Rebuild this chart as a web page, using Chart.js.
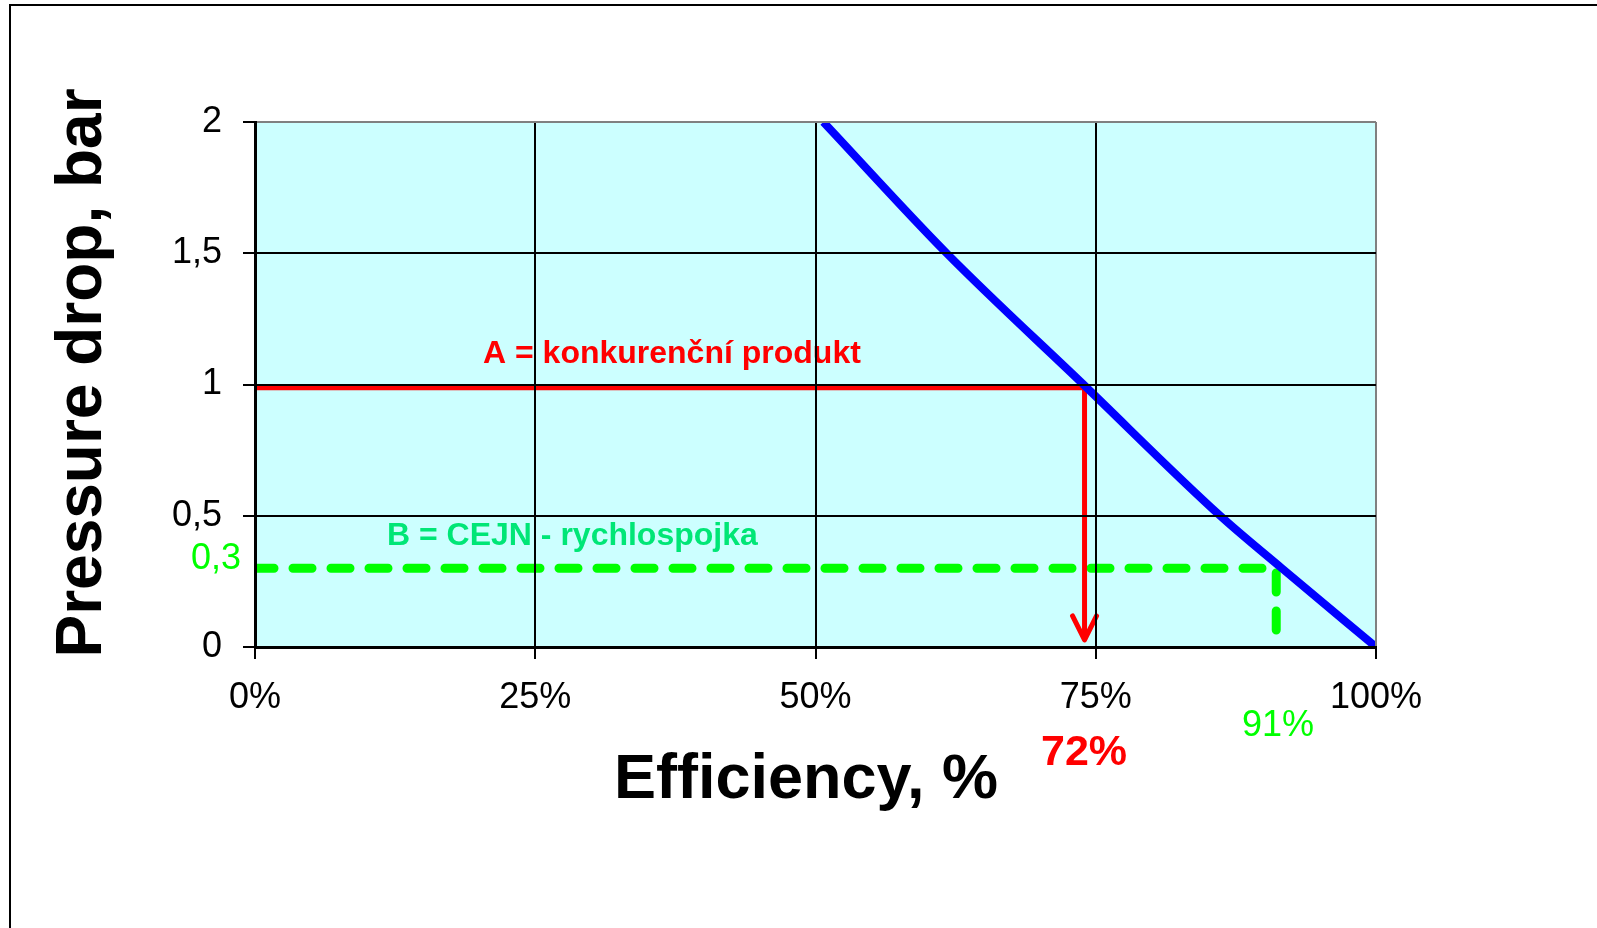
<!DOCTYPE html>
<html>
<head>
<meta charset="utf-8">
<script src="https://cdn.jsdelivr.net/npm/chart.js@4/dist/chart.umd.min.js"></script>
<style>
  html, body { margin: 0; padding: 0; background: #fff; }
  #wrap { width: 1597px; height: 928px; }
</style>
</head>
<body>
<div id="wrap"><canvas id="c" width="1597" height="928"></canvas></div>
<script>
// ---- data ----
const efficiency   = [50.7, 61.7, 73.9, 86.1, 91.6, 100];   // % (x)
const pressureDrop = [2, 1.5, 1, 0.5, 0.3, 0];              // bar (y)

const competitorX = [0, 74, 74];
const competitorY = [0.988, 0.988, 0.027];

const cejnX = [0, 91.1, 91.1];
const cejnY = [0.3, 0.3, 0];

const xTicks = [0, 25, 50, 75, 100];
const yTicks = [0, 0.5, 1, 1.5, 2];

const xTitle = 'Efficiency, %';
const yTitle = 'Pressure drop, bar';
const labelA = 'A = konkurenční produkt';
const labelB = 'B = CEJN - rychlospojka';
const labelA_val = '72%';
const labelB_val = '91%';
const labelB_y = '0,3';

const FONT = '"Liberation Sans", Arial, sans-serif';

const pts = (xs, ys) => xs.map((x, i) => ({ x: x, y: ys[i] }));

const bgPlugin = {
  id: 'bg',
  beforeDraw(chart) {
    const { ctx, chartArea: a } = chart;
    ctx.save();
    ctx.fillStyle = '#ffffff';
    ctx.fillRect(0, 0, chart.width, chart.height);
    ctx.strokeStyle = '#000';
    ctx.lineWidth = 2;
    ctx.strokeRect(10, 5, chart.width + 40, chart.height + 40);
    ctx.fillStyle = '#CCFFFF';
    ctx.fillRect(a.left, a.top, a.right - a.left, a.bottom - a.top);
    ctx.restore();
  },
  beforeDatasetsDraw(chart) {
    const { ctx } = chart;
    ctx.save();
    ctx.textBaseline = 'alphabetic';
    ctx.textAlign = 'left';
    ctx.font = 'bold 32px ' + FONT;
    ctx.fillStyle = '#FF0000';
    ctx.fillText(labelA, 483, 363);
    ctx.font = 'bold 32px ' + FONT;
    ctx.fillStyle = '#00E676';
    ctx.fillText(labelB, 387, 545);
    ctx.restore();
  },
  afterDatasetsDraw(chart) {
    const { ctx, scales } = chart;
    const n = competitorX.length - 1;
    const tx = scales.x.getPixelForValue(competitorX[n]);
    const ty = scales.y.getPixelForValue(competitorY[n]);
    ctx.save();
    ctx.strokeStyle = '#FF0000';
    ctx.lineWidth = 5;
    ctx.lineCap = 'round';
    ctx.lineJoin = 'round';
    ctx.beginPath();
    ctx.moveTo(tx - 12, ty - 24);
    ctx.lineTo(tx, ty);
    ctx.lineTo(tx + 12, ty - 24);
    ctx.stroke();
    ctx.restore();
  },
  afterDraw(chart) {
    const { ctx } = chart;
    ctx.save();
    ctx.textBaseline = 'alphabetic';
    ctx.fillStyle = '#000';
    ctx.font = 'bold 63px ' + FONT;
    ctx.textAlign = 'center';
    ctx.fillText(xTitle, 806, 798);
    ctx.save();
    ctx.translate(101, 373);
    ctx.rotate(-Math.PI / 2);
    ctx.font = 'bold 64px ' + FONT;
    ctx.fillText(yTitle, 0, 0);
    ctx.restore();
    ctx.font = 'bold 43px ' + FONT;
    ctx.fillStyle = '#FF0000';
    ctx.fillText(labelA_val, 1084, 765);
    ctx.font = '36px ' + FONT;
    ctx.fillStyle = '#00FF00';
    ctx.fillText(labelB_val, 1278, 736);
    ctx.textAlign = 'right';
    ctx.fillText(labelB_y, 241, 569);
    ctx.restore();
  }
};

new Chart(document.getElementById('c'), {
  type: 'scatter',
  data: {
    datasets: [
      {
        data: pts(efficiency, pressureDrop),
        showLine: true,
        borderColor: '#0000FF',
        borderWidth: 8,
        pointRadius: 0,
        cubicInterpolationMode: 'monotone',
        borderCapStyle: 'butt'
      },
      {
        data: pts(competitorX, competitorY),
        showLine: true,
        borderColor: '#FF0000',
        borderWidth: 5,
        pointRadius: 0,
        tension: 0,
        borderJoinStyle: 'miter'
      },
      {
        data: pts(cejnX, cejnY),
        showLine: true,
        borderColor: '#00FF00',
        borderWidth: 9,
        pointRadius: 0,
        tension: 0,
        borderDash: [19, 19],
        borderCapStyle: 'round',
        borderJoinStyle: 'round'
      }
    ]
  },
  options: {
    responsive: false,
    animation: false,
    events: [],
    layout: { padding: { top: 122, right: 221, left: 0, bottom: 0 } },
    plugins: { legend: { display: false }, tooltip: { enabled: false } },
    scales: {
      x: {
        type: 'linear',
        min: 0, max: 100,
        afterFit(s) { s.height = 281; },
        afterBuildTicks(s) { s.ticks = xTicks.map(v => ({ value: v })); },
        ticks: {
          callback: v => v + '%',
          font: { family: FONT, size: 36 },
          color: '#000',
          padding: 17,
          maxRotation: 0
        },
        grid: {
          z: 1,
          lineWidth: 2,
          color: c => (c.tick && c.tick.value === 100) ? '#808080' : '#000',
          tickLength: 12,
          tickColor: '#000',
          tickWidth: 2
        },
        border: { color: '#000', width: 3, z: 1 },
        title: { display: false }
      },
      y: {
        type: 'linear',
        min: 0, max: 2,
        afterFit(s) { s.width = 255; },
        afterBuildTicks(s) { s.ticks = yTicks.map(v => ({ value: v })); },
        ticks: {
          callback: v => String(v).replace('.', ','),
          font: { family: FONT, size: 36 },
          color: '#000',
          padding: 21
        },
        grid: {
          z: 1,
          lineWidth: 2,
          color: c => (c.tick && c.tick.value === 2) ? '#808080' : '#000',
          tickLength: 12,
          tickColor: '#000',
          tickWidth: 2
        },
        border: { color: '#000', width: 3, z: 1 },
        title: { display: false }
      }
    }
  },
  plugins: [bgPlugin]
});
</script>
</body>
</html>
